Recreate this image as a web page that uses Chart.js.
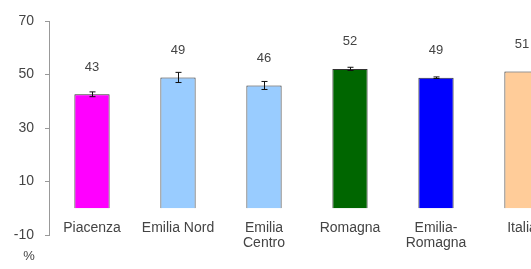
<!DOCTYPE html>
<html><head><meta charset="utf-8">
<script src="https://cdn.jsdelivr.net/npm/chart.js@4"></script>
<style>html,body{margin:0;padding:0;background:#fff;overflow:hidden;width:531px;height:269px}#wrap{width:565px;height:269px}</style>
</head><body><div id="wrap"><canvas id="c" width="565" height="269"></canvas></div>
<script>
const categories = [["Piacenza"], ["Emilia Nord"], ["Emilia", "Centro"], ["Romagna"], ["Emilia-", "Romagna"], ["Italia"]];
const values = [42.6, 48.9, 45.9, 52.1, 48.8, 51.1];
const valueLabels = ["43", "49", "46", "52", "49", "51"];
const errors = [0.9, 1.9, 1.5, 0.6, 0.3, 0];
const barColors = ["#FF00FF", "#99CCFF", "#99CCFF", "#006600", "#0000FF", "#FFCC99"];
const yTicks = [-10, 10, 30, 50, 70];
const unitLabel = "%";

const FONT = "'Liberation Sans', Arial, sans-serif";

const extras = {
  id: 'extras',
  afterDatasetsDraw(chart) {
    const ctx = chart.ctx;
    const meta = chart.getDatasetMeta(0);
    const y = chart.scales.y;
    const x = chart.scales.x;
    ctx.save();
    ctx.strokeStyle = '#111';
    ctx.lineWidth = 1;
    meta.data.forEach((bar, i) => {
      const e = errors[i];
      if (e > 0) {
        const yt = y.getPixelForValue(values[i] + e);
        const yb = y.getPixelForValue(values[i] - e);
        const xp = Math.round(bar.x) + 0.5;
        ctx.beginPath();
        ctx.moveTo(xp, yt); ctx.lineTo(xp, yb);
        ctx.moveTo(xp - 3, yt); ctx.lineTo(xp + 3, yt);
        ctx.moveTo(xp - 3, yb); ctx.lineTo(xp + 3, yb);
        ctx.stroke();
      }
      ctx.fillStyle = '#444';
      ctx.font = '13px ' + FONT;
      ctx.textAlign = 'center';
      ctx.textBaseline = 'middle';
      ctx.fillText(valueLabels[i], bar.x, bar.y - 27);
    });
    ctx.fillStyle = '#444';
    ctx.font = '14px ' + FONT;
    ctx.textAlign = 'center';
    ctx.textBaseline = 'middle';
    categories.forEach((lines, i) => {
      const cx = x.getPixelForValue(i);
      lines.forEach((t, j) => ctx.fillText(t, cx, 228 + j * 15));
    });
    ctx.font = '13px ' + FONT;
    ctx.fillText(unitLabel, 29, 256);
    ctx.restore();
  }
};

new Chart(document.getElementById('c'), {
  type: 'bar',
  data: {
    labels: categories,
    datasets: [{
      data: values,
      backgroundColor: barColors,
      borderColor: '#333',
      borderWidth: 1,
      barPercentage: 0.41,
      categoryPercentage: 1
    }]
  },
  options: {
    responsive: false,
    animation: false,
    layout: { padding: { top: 21, left: 0, right: 0, bottom: 0 } },
    plugins: { legend: { display: false }, tooltip: { enabled: false } },
    scales: {
      x: {
        grid: { display: false, drawTicks: false },
        border: { display: false },
        ticks: { display: false },
        afterFit(s) { s.height = 34; }
      },
      y: {
        min: -10, max: 70,
        afterBuildTicks(s) { s.ticks = yTicks.map(v => ({ value: v })); },
        grid: { drawOnChartArea: false, drawTicks: true, tickLength: 4, color: '#999' },
        border: { color: '#999' },
        ticks: { color: '#444', font: { family: FONT, size: 14 }, padding: 11 },
        afterFit(s) { s.width = 49; }
      }
    }
  },
  plugins: [extras]
});
</script>
</body></html>
